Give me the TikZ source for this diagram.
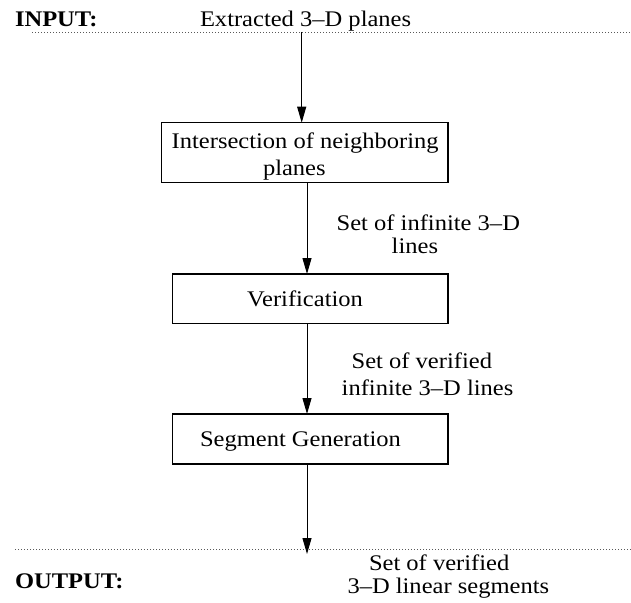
\documentclass[tikz,border=0pt]{standalone}
\usepackage{fontspec}
\setmainfont[FakeStretch=1.1]{Liberation Serif}
\usetikzlibrary{arrows.meta}

\tikzset{
  lbl/.style={font=\fontsize{22.3}{27}\selectfont, inner sep=0pt, outer sep=0pt},
  head/.style={lbl, font=\fontsize{22.3}{27}\selectfont\bfseries},
  stage/.style={draw, line width=1.1pt, inner sep=0pt, outer sep=0pt},
  flow/.style={line width=1pt, -{Triangle[length=16pt,width=9pt]}},
  divider/.style={line width=0.9pt, gray!70!black, dash pattern=on 0.9pt off 2.1pt}
}

\begin{document}
\begin{tikzpicture}[x=1pt,y=-1pt]
  \useasboundingbox (0,0) rectangle (631,602);

  % input / output dividers
  \coordinate (inL) at (32,32);
  \coordinate (inR) at (631,32);
  \coordinate (outL) at (15,549.5);
  \coordinate (outR) at (631,549.5);
  \draw[divider] (inL) -- (inR);
  \draw[divider] (outL) -- (outR);

  % header texts
  \node[head, anchor=base west] (inhead) at (15,27) {INPUT:};
  \node[lbl, anchor=base west] (intext) at (200,27) {Extracted 3--D planes};
  \node[head, anchor=base west] (outhead) at (15,588) {OUTPUT:};
  \node[lbl, anchor=base west] (out1) at (369,570) {Set of verified};
  \node[lbl, anchor=base west] (out2) at (347.5,593) {3--D linear segments};

  % processing stages
  \node[stage, minimum width=286.3pt, minimum height=60pt]
    (b1) at (304.85,152.7) {};
  \node[lbl, anchor=base west] (b1t1) at (171.7,148.3) {Intersection of neighboring};
  \node[lbl, anchor=base west] (b1t2) at (263,175) {planes};

  \node[stage, minimum width=275.3pt, minimum height=49.3pt]
    (b2) at (310.35,298.65) {};
  \node[lbl, anchor=base] (b2t) at (305,306.7) {Verification};

  \node[stage, minimum width=275.3pt, minimum height=50pt]
    (b3) at (310.35,439) {};
  \node[lbl, anchor=base west] (b3t) at (200,446.7) {Segment Generation};

  % edge labels
  \node[lbl, anchor=base west] (e1a) at (336.7,230) {Set of infinite 3--D};
  \node[lbl, anchor=base west] (e1b) at (391.7,253) {lines};
  \node[lbl, anchor=base west] (e2a) at (351.7,368) {Set of verified};
  \node[lbl, anchor=base west] (e2b) at (341.7,395) {infinite 3--D lines};

  % connectors
  \coordinate (src) at (301.7,32);
  \coordinate (sink) at (307,554);
  \draw[flow] (src) -- (src |- b1.north);
  \draw[flow] (b1.south -| sink) -- (b2.north -| sink);
  \draw[flow] (b2.south -| sink) -- (b3.north -| sink);
  \draw[flow] (b3.south -| sink) -- (sink);
\end{tikzpicture}
\end{document}
